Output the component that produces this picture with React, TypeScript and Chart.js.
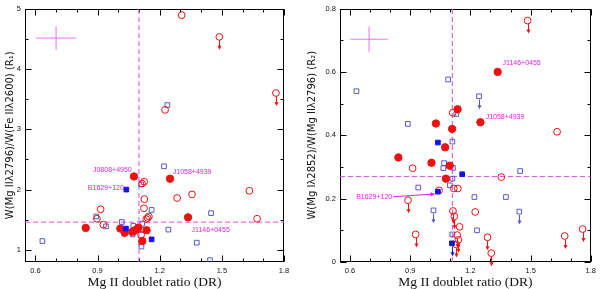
import React, { useEffect, useRef } from 'react';
import { Chart, registerables } from 'chart.js';
Chart.register(...registerables);

type P = [number, number, number]; // DR, ratio, upper-limit flag (1 = upper limit)

// ---------- Left panel: R1 = W(MgII2796)/W(FeII2600) ----------
const leftRedFilled: P[] = [
  [0.843, 1.365, 0], [1.010, 1.354, 0], [1.031, 1.284, 0], [1.076, 2.217, 0], [1.068, 1.30, 0],
  [1.078, 1.32, 0], [1.089, 1.34, 0], [1.097, 1.37, 0], [1.116, 1.147, 0], [1.137, 1.326, 0],
  [1.25, 2.18, 0], [1.337, 1.54, 0],
];
const leftRedOpen: P[] = [
  [1.306, 4.89, 0], [1.488, 4.53, 1], [1.761, 3.60, 1], [1.226, 3.32, 0], [0.897, 1.517, 0],
  [0.915, 1.674, 0], [0.928, 1.419, 0], [1.115, 2.10, 0], [1.125, 2.13, 0], [1.126, 1.842, 0],
  [1.124, 1.69, 0], [1.135, 1.51, 0], [1.148, 1.555, 0], [1.142, 1.53, 0], [1.284, 1.86, 0],
  [1.356, 1.92, 0], [1.633, 1.98, 0], [1.67, 1.517, 0], [1.11, 1.25, 0],
];
const leftBlueOpen: P[] = [
  [0.634, 1.147, 0], [0.894, 1.554, 0], [0.941, 1.39, 0], [1.017, 1.463, 0], [1.070, 1.256, 0],
  [1.073, 1.398, 0], [1.112, 1.056, 0], [1.116, 1.435, 0], [1.111, 2.087, 0], [1.161, 1.663, 0],
  [1.221, 2.385, 0], [1.237, 3.40, 0], [1.242, 1.337, 0], [1.379, 1.12, 0], [1.448, 1.61, 0],
  [1.443, 0.83, 0], [1.113, 1.33, 0],
];
const leftBlueFilled: P[] = [[1.037, 1.354, 0], [1.039, 2.0, 0], [1.161, 1.175, 0]];

// ---------- Right panel: R2 = W(MgI2852)/W(MgII2796) ----------
const rightRedFilled: P[] = [
  [0.841, 0.33, 0], [1.006, 0.313, 0], [1.028, 0.437, 0], [1.074, 0.362, 0], [1.078, 0.263, 0],
  [1.097, 0.304, 0], [1.109, 0.42, 0], [1.136, 0.482, 0], [1.25, 0.441, 0], [1.336, 0.60, 0],
];
const rightRedOpen: P[] = [
  [1.485, 0.762, 1], [1.112, 0.471, 0], [1.632, 0.411, 0], [0.912, 0.296, 0], [1.044, 0.226, 0],
  [1.117, 0.232, 0], [1.137, 0.232, 0], [1.354, 0.268, 0], [0.889, 0.195, 1], [1.224, 0.158, 0],
  [1.113, 0.161, 1], [1.12, 0.144, 1], [1.146, 0.111, 0], [0.927, 0.087, 1], [1.134, 0.085, 1],
  [1.14, 0.07, 1], [1.13, 0.055, 1], [1.285, 0.078, 1], [1.67, 0.082, 1], [1.759, 0.104, 1],
  [1.304, 0.028, 1],
];
const rightBlueOpen: P[] = [
  [1.089, 0.576, 0], [0.632, 0.539, 0], [1.243, 0.523, 1], [1.13, 0.467, 0], [0.888, 0.436, 0],
  [1.11, 0.38, 0], [1.069, 0.312, 0], [1.065, 0.296, 0], [1.113, 0.297, 0], [1.11, 0.263, 0],
  [0.94, 0.235, 0], [1.097, 0.242, 0], [1.448, 0.287, 0], [1.22, 0.205, 0], [1.377, 0.205, 0],
  [1.016, 0.163, 1], [1.444, 0.159, 1], [1.233, 0.10, 0], [1.11, 0.087, 0],
];
const rightBlueFilled: P[] = [[1.038, 0.377, 0], [1.159, 0.277, 0], [1.038, 0.222, 0], [1.108, 0.059, 1]];

// ---------- Axes ----------
const xMajor = [0.6, 0.9, 1.2, 1.5, 1.8];
const xMinor = [0.6, 0.7, 0.8, 0.9, 1.0, 1.1, 1.2, 1.3, 1.4, 1.5, 1.6, 1.7, 1.8];
const leftYMajor = [1, 2, 3, 4, 5];
const leftYMinor = [1, 1.5, 2, 2.5, 3, 3.5, 4, 4.5, 5];
const rightYMajor = [0, 0.2, 0.4, 0.6, 0.8];
const rightYMinor = [0, 0.1, 0.2, 0.3, 0.4, 0.5, 0.6, 0.7, 0.8];

// Reference lines and typical error bars
const leftCut = { dr: 1.1, r: 1.46 };
const rightCut = { dr: 1.11, r: 0.27 };
const leftErr = { x: 0.7, y: 4.51, dx: 0.097, dy: 0.195 };
const rightErr = { x: 0.695, y: 0.703, dx: 0.093, dy: 0.04 };

// Labels: [text, x, y, align]
const leftLabels: [string, number, number, string][] = [
  ['J0808+4950', 1.065, 2.33, 'right'],
  ['B1629+120', 1.027, 2.03, 'right'],
  ['J1058+4939', 1.263, 2.29, 'left'],
  ['J1146+0455', 1.354, 1.33, 'left'],
];
const rightLabels: [string, number, number, string][] = [
  ['J1146+0455', 1.36, 0.628, 'left'],
  ['J1058+4939', 1.276, 0.456, 'left'],
  ['B1629+120', 0.81, 0.206, 'right'],
];
const rightPointer = { x0: 0.815, y0: 0.206, x1: 1.026, y1: 0.214 };

const RED = '#ee1111';
const BLUE_F = '#1414e0';
const BLUE_O = '#5858cc';
const MAG = '#e04ce0';
const MAG_T = '#dd22dd';

const pts = (a: P[]) => a.map((p) => ({ x: p[0], y: p[1] }));
const lims = (a: P[]) => a.map((p) => p[2]);

const framePlugin = {
  id: 'frame',
  beforeDatasetsDraw(chart: any) {
    const o = chart.options.plugins.frame;
    const { ctx, chartArea } = chart;
    const { left, right, top, bottom } = chartArea;
    const xs = chart.scales.x, ys = chart.scales.y;
    ctx.save();
    ctx.strokeStyle = '#000';
    ctx.lineWidth = 1;
    const L = Math.round(left) + 0.5, R = Math.round(right) - 0.5, T = Math.round(top) + 0.5, B = Math.round(bottom) - 0.5;
    ctx.strokeRect(L, T, R - L, B - T);
    ctx.beginPath();
    const tickX = (vals: number[], len: number) => vals.forEach((v) => {
      const px = Math.round(xs.getPixelForValue(v)) + 0.5;
      ctx.moveTo(px, B); ctx.lineTo(px, B - len);
      ctx.moveTo(px, T); ctx.lineTo(px, T + len);
    });
    const tickY = (vals: number[], len: number) => vals.forEach((v) => {
      const py = Math.round(ys.getPixelForValue(v)) + 0.5;
      ctx.moveTo(L, py); ctx.lineTo(L + len, py);
      ctx.moveTo(R, py); ctx.lineTo(R - len, py);
    });
    tickX(xMinor, 3); tickX(xMajor, 6);
    tickY(o.yMinor, 3); tickY(o.yMajor, 6);
    ctx.stroke();
    ctx.restore();
  },
  afterDatasetsDraw(chart: any) {
    const o = chart.options.plugins.frame;
    const { ctx } = chart;
    const xs = chart.scales.x, ys = chart.scales.y;
    ctx.save();
    // upper-limit arrows
    chart.data.datasets.forEach((ds: any, i: number) => {
      if (!ds.limits) return;
      const meta = chart.getDatasetMeta(i);
      ctx.strokeStyle = ds.borderColor;
      ctx.fillStyle = ds.borderColor;
      ctx.lineWidth = 1;
      meta.data.forEach((el: any, j: number) => {
        if (!ds.limits[j]) return;
        const x = Math.round(el.x) + 0.5;
        const y0 = el.y + ds.pointRadius;
        const y1 = el.y + 13;
        ctx.beginPath();
        ctx.moveTo(x, y0); ctx.lineTo(x, y1 - 3);
        ctx.stroke();
        ctx.beginPath();
        ctx.moveTo(x - 2, y1 - 4); ctx.lineTo(x + 2, y1 - 4); ctx.lineTo(x, y1);
        ctx.closePath(); ctx.fill();
      });
    });
    // labels
    ctx.fillStyle = MAG_T;
    ctx.font = '7px "Liberation Sans", Arial, sans-serif';
    ctx.textBaseline = 'middle';
    o.labels.forEach((l: any) => {
      ctx.textAlign = l[3];
      ctx.fillText(l[0], xs.getPixelForValue(l[1]), ys.getPixelForValue(l[2]));
    });
    if (o.pointer) {
      const p = o.pointer;
      const x0 = xs.getPixelForValue(p.x0), y0 = ys.getPixelForValue(p.y0);
      const x1 = xs.getPixelForValue(p.x1), y1 = ys.getPixelForValue(p.y1);
      ctx.strokeStyle = MAG_T; ctx.lineWidth = 1;
      ctx.beginPath(); ctx.moveTo(x0, y0); ctx.lineTo(x1 - 4, y1); ctx.stroke();
      ctx.beginPath(); ctx.moveTo(x1, y1); ctx.lineTo(x1 - 5, y1 - 2); ctx.lineTo(x1 - 5, y1 + 2); ctx.closePath(); ctx.fill();
    }
    ctx.restore();
  },
};

function makeConfig(side: 'left' | 'right'): any {
  const isL = side === 'left';
  const rf = isL ? leftRedFilled : rightRedFilled;
  const ro = isL ? leftRedOpen : rightRedOpen;
  const bo = isL ? leftBlueOpen : rightBlueOpen;
  const bf = isL ? leftBlueFilled : rightBlueFilled;
  const cut = isL ? leftCut : rightCut;
  const err = isL ? leftErr : rightErr;
  const yMin = isL ? 0.8 : 0;
  const yMax = isL ? 5 : 0.8;
  const line = (data: any[], color: string, dash: number[]) => ({
    data, showLine: true, borderColor: color, borderWidth: 1, borderDash: dash, pointRadius: 0, fill: false,
  });
  return {
    type: 'scatter',
    data: {
      datasets: [
        { data: pts(bf), limits: lims(bf), pointStyle: 'rect', pointRadius: 3.3, backgroundColor: BLUE_F, borderColor: BLUE_F, borderWidth: 1 },
        { data: pts(rf), limits: lims(rf), pointStyle: 'circle', pointRadius: 3.7, backgroundColor: RED, borderColor: RED, borderWidth: 1 },
        { data: pts(ro), limits: lims(ro), pointStyle: 'circle', pointRadius: 3.4, backgroundColor: 'rgba(0,0,0,0)', borderColor: RED, borderWidth: 1 },
        { data: pts(bo), limits: lims(bo), pointStyle: 'rect', pointRadius: 3.3, backgroundColor: 'rgba(0,0,0,0)', borderColor: BLUE_O, borderWidth: 1 },
        line([{ x: 0.55, y: cut.r }, { x: 1.8, y: cut.r }], MAG, [5, 3]),
        line([{ x: cut.dr, y: yMin }, { x: cut.dr, y: yMax }], MAG, [5, 3]),
        line([{ x: err.x - err.dx, y: err.y }, { x: err.x + err.dx, y: err.y }], '#f070f0', []),
        line([{ x: err.x, y: err.y - err.dy }, { x: err.x, y: err.y + err.dy }], '#f070f0', []),
      ],
    },
    options: {
      responsive: false,
      animation: false,
      layout: { padding: isL ? { left: 0, right: 16, top: 5, bottom: 0 } : { left: 0, right: 7, top: 5, bottom: 0 } },
      plugins: {
        legend: { display: false },
        tooltip: { enabled: false },
        frame: {
          yMajor: isL ? leftYMajor : rightYMajor,
          yMinor: isL ? leftYMinor : rightYMinor,
          labels: isL ? leftLabels : rightLabels,
          pointer: isL ? null : rightPointer,
        },
      },
      scales: {
        x: {
          type: 'linear', min: 0.55, max: 1.8,
          grid: { display: false, drawTicks: false }, border: { display: false },
          afterBuildTicks: (s: any) => { s.ticks = xMajor.map((v) => ({ value: v })); },
          afterFit: (s: any) => { s.height = 27; },
          ticks: { autoSkip: false, maxRotation: 0, padding: 4, color: '#111',
            font: { family: '"Liberation Sans", Arial, sans-serif', size: 7.5 },
            callback: (v: any) => Number(v).toFixed(1) },
          title: { display: true, text: 'Mg II doublet ratio (DR)', color: '#111',
            font: { family: '"Liberation Serif", "Times New Roman", serif', size: 13.5, lineHeight: 1 },
            padding: { top: 0, bottom: 0 } },
        },
        y: {
          type: 'linear', min: yMin, max: yMax,
          grid: { display: false, drawTicks: false }, border: { display: false },
          afterBuildTicks: (s: any) => { s.ticks = (isL ? leftYMajor : rightYMajor).map((v) => ({ value: v })); },
          afterFit: (s: any) => { s.width = isL ? 25 : 40; },
          ticks: { autoSkip: false, padding: 4, color: '#111',
            font: { family: '"Liberation Sans", Arial, sans-serif', size: 7.5 },
            callback: (v: any) => (isL ? String(v) : (v === 0 ? '0' : Number(v).toFixed(1))) },
          title: { display: true,
            text: isL ? 'W(Mg IIλ2796)/W(Fe IIλ2600) (R₁)' : 'W(Mg Iλ2852)/W(Mg IIλ2796) (R₂)',
            color: '#111',
            font: { family: '"DejaVu Sans", "Liberation Sans", sans-serif', size: 10, lineHeight: 1.1 },
            padding: { top: isL ? 4.5 : 6.5, bottom: 0 } },
        },
      },
    },
    plugins: [framePlugin],
  };
}

function Panel({ side }: { side: 'left' | 'right' }) {
  const ref = useRef<HTMLCanvasElement | null>(null);
  useEffect(() => {
    if (!ref.current) return;
    const chart = new Chart(ref.current, makeConfig(side));
    return () => chart.destroy();
  }, [side]);
  return <canvas ref={ref} width={300} height={289} style={{ width: 300, height: 289, display: 'block' }} />;
}

export default function App() {
  return (
    <div style={{ position: 'absolute', left: 0, top: 0, width: 600, height: 289, display: 'flex', background: '#fff' }}>
      <Panel side="left" />
      <Panel side="right" />
    </div>
  );
}
